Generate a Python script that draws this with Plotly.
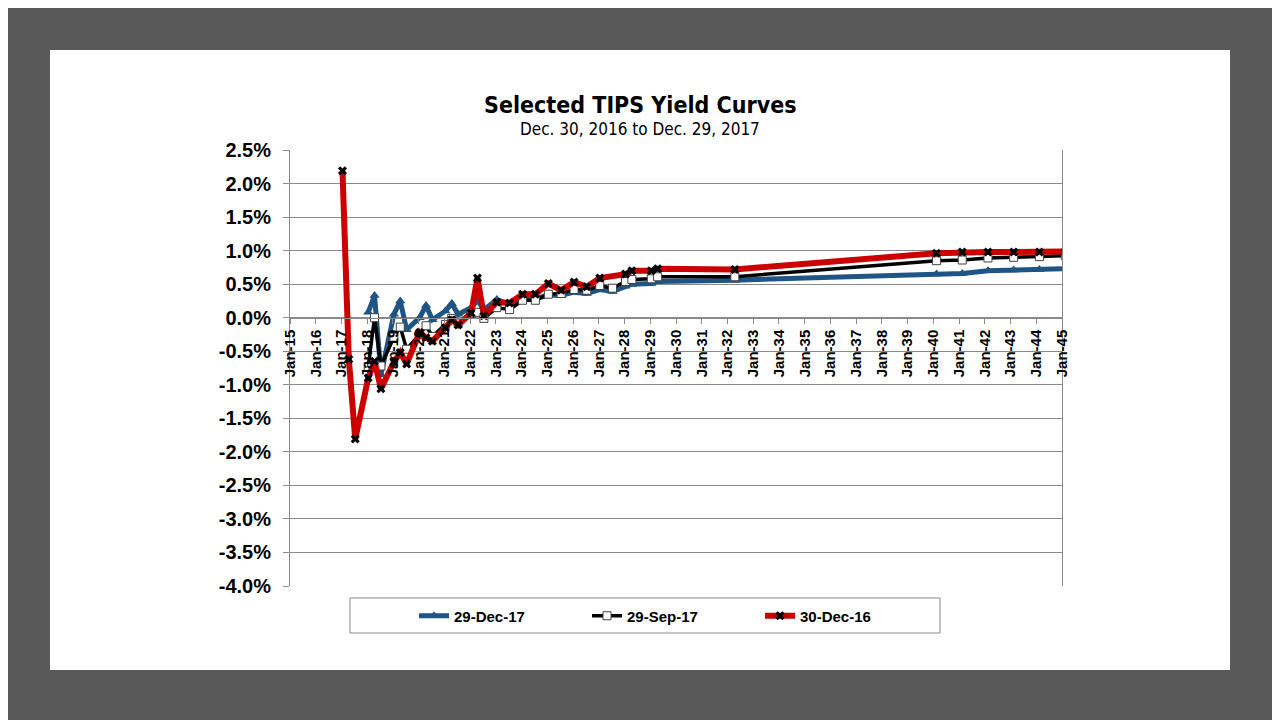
import plotly.graph_objects as go

# ---------------- data ----------------
dec17_dates = ["2018-01-15", "2018-04-15", "2018-07-15", "2019-01-15", "2019-04-15", "2019-07-15",
               "2020-01-15", "2020-04-15", "2020-07-15", "2021-01-15", "2021-04-15", "2021-07-15",
               "2022-01-15", "2022-04-15", "2022-07-15", "2023-01-15", "2023-07-15", "2024-01-15",
               "2024-07-15", "2025-01-15", "2025-07-15", "2026-01-15", "2026-07-15", "2027-01-15",
               "2027-07-15", "2028-01-15", "2028-04-15", "2029-01-15", "2029-04-15", "2032-04-15",
               "2040-02-15", "2041-02-15", "2042-02-15", "2043-02-15", "2044-02-15", "2045-02-15",
               "2046-02-15", "2047-02-15"]
dec17_yields = [0.08, 0.33, -0.85, 0.05, 0.25, -0.18,
                0.00, 0.18, -0.03, 0.10, 0.21, 0.05,
                0.15, 0.26, 0.12, 0.27, 0.20, 0.28,
                0.28, 0.34, 0.33, 0.38, 0.36, 0.42,
                0.39, 0.47, 0.50, 0.51, 0.54, 0.56,
                0.65, 0.66, 0.70, 0.71, 0.72, 0.73,
                0.74, 0.75]

sep17_dates = ["2018-01-15", "2018-04-15", "2018-07-15", "2019-01-15", "2019-04-15", "2019-07-15",
               "2020-01-15", "2020-04-15", "2020-07-15", "2021-01-15", "2021-04-15", "2021-07-15",
               "2022-01-15", "2022-04-15", "2022-07-15", "2023-01-15", "2023-07-15", "2024-01-15",
               "2024-07-15", "2025-01-15", "2025-07-15", "2026-01-15", "2026-07-15", "2027-01-15",
               "2027-07-15", "2028-01-15", "2028-04-15", "2029-01-15", "2029-04-15", "2032-04-15",
               "2040-02-15", "2041-02-15", "2042-02-15", "2043-02-15", "2044-02-15", "2045-02-15",
               "2046-02-15", "2047-02-15"]
sep17_yields = [-0.73, 0.00, -0.72, -0.29, -0.14, -0.47,
                -0.25, -0.12, -0.28, -0.10, -0.01, -0.08,
                0.06, 0.08, -0.01, 0.15, 0.12, 0.26,
                0.26, 0.35, 0.36, 0.42, 0.41, 0.48,
                0.44, 0.54, 0.57, 0.58, 0.61, 0.61,
                0.85, 0.86, 0.89, 0.90, 0.91, 0.93,
                0.94, 0.95]

dec16_dates = ["2017-01-15", "2017-04-15", "2017-07-15", "2018-01-15", "2018-04-15", "2018-07-15",
               "2019-01-15", "2019-04-15", "2019-07-15", "2020-01-15", "2020-04-15", "2020-07-15",
               "2021-01-15", "2021-04-15", "2021-07-15", "2022-01-15", "2022-04-15", "2022-07-15",
               "2023-01-15", "2023-07-15", "2024-01-15", "2024-07-15", "2025-01-15", "2025-07-15",
               "2026-01-15", "2026-07-15", "2027-01-15", "2028-01-15", "2028-04-15", "2029-01-15",
               "2029-04-15", "2032-04-15", "2040-02-15", "2041-02-15", "2042-02-15", "2043-02-15",
               "2044-02-15", "2045-02-15", "2046-02-15"]
dec16_yields = [2.19, -0.62, -1.81, -0.90, -0.65, -1.06,
                -0.66, -0.52, -0.69, -0.22, -0.30, -0.35,
                -0.15, -0.03, -0.11, 0.07, 0.59, 0.03,
                0.23, 0.22, 0.35, 0.35, 0.51, 0.41,
                0.53, 0.46, 0.59, 0.65, 0.70, 0.70,
                0.73, 0.72, 0.96, 0.98, 0.98, 0.98,
                0.98, 0.98, 0.99]

series_names = ["29-Dec-17", "29-Sep-17", "30-Dec-16"]

y_tick_vals = [2.5, 2.0, 1.5, 1.0, 0.5, 0.0, -0.5, -1.0, -1.5, -2.0, -2.5, -3.0, -3.5, -4.0]
y_tick_text = [f"{v:.1f}%" for v in y_tick_vals]
x_tick_years = list(range(2015, 2046))
x_tick_vals = [f"{y}-01-01" for y in x_tick_years]
x_tick_text = [f"Jan-{y % 100:02d}" for y in x_tick_years]

# ---------------- figure ----------------
W, H = 1280, 720
OFF = 8  # page offset of the figure inside the browser window
L, R, T, B = 290 - OFF, 1062 - OFF, 150 - OFF, 586 - OFF
pw, ph = R - L, B - T


def px(xp):
    return (xp - OFF - L) / pw


def py(yp):
    return (B - (yp - OFF)) / ph


fig = go.Figure()

fig.add_trace(go.Scatter(
    x=dec17_dates, y=dec17_yields, name=series_names[0], mode="lines+markers",
    line=dict(color="#1F5585", width=5),
    marker=dict(symbol="triangle-up", size=9, color="#1F5585"),
))
fig.add_trace(go.Scatter(
    x=sep17_dates, y=sep17_yields, name=series_names[1], mode="lines+markers",
    line=dict(color="#000000", width=3.5),
    marker=dict(symbol="square", size=8, color="white", line=dict(color="#404040", width=1)),
))
fig.add_trace(go.Scatter(
    x=dec16_dates, y=dec16_yields, name=series_names[2], mode="lines+markers",
    line=dict(color="#CC0000", width=6),
    marker=dict(symbol="x", size=8, color="#000000", line=dict(width=0)),
))

grid = "#8a8a8a"
fig.update_layout(
    width=W, height=H,
    margin=dict(l=L, r=W - R, t=T, b=H - B),
    paper_bgcolor="#595959",
    plot_bgcolor="white",
    showlegend=True,
    hovermode=False,
    xaxis=dict(
        type="date",
        range=["2015-01-01", "2045-01-01"],
        tickmode="array", tickvals=x_tick_vals, ticktext=x_tick_text,
        tickangle=-90,
        tickfont=dict(family="Liberation Sans, Arial, sans-serif", size=15, color="black", weight="bold"),
        ticks="outside", ticklen=5, tickcolor=grid,
        showgrid=False, zeroline=False,
        showline=True, linecolor=grid, linewidth=1,
        anchor="free", position=4.0 / 6.5,
    ),
    yaxis=dict(
        range=[-4.0, 2.5],
        tickmode="array", tickvals=y_tick_vals, ticktext=y_tick_text,
        tickfont=dict(family="Liberation Sans, Arial, sans-serif", size=20, color="black", weight="bold"),
        ticks="outside", ticklen=6, tickcolor=grid,
        ticklabelstandoff=8,
        showgrid=True, gridcolor=grid, gridwidth=1,
        zeroline=False,
        showline=True, linecolor=grid, linewidth=1, mirror=True,
    ),
    legend=dict(
        orientation="h",
        x=px(414), xanchor="left",
        y=py(616), yanchor="middle",
        bgcolor="rgba(0,0,0,0)", borderwidth=0,
        entrywidth=128, entrywidthmode="pixels",
        font=dict(family="Liberation Sans, Arial, sans-serif", size=15, color="black", weight="bold"),
    ),
    shapes=[
        dict(type="rect", xref="paper", yref="paper",
             x0=px(50), x1=px(1230), y0=py(670), y1=py(50),
             fillcolor="white", line=dict(width=0), layer="below"),
        dict(type="rect", xref="paper", yref="paper",
             x0=px(350), x1=px(940), y0=py(633), y1=py(598),
             fillcolor="rgba(0,0,0,0)", line=dict(color=grid, width=1), layer="above"),
    ],
    annotations=[
        dict(text="<b>Selected TIPS Yield Curves</b>", xref="paper", yref="paper",
             x=px(640), y=py(105), xanchor="center", yanchor="middle", showarrow=False,
             font=dict(family="DejaVu Sans Condensed, Liberation Sans Narrow, sans-serif", size=23, color="black")),
        dict(text="Dec. 30, 2016 to Dec. 29, 2017", xref="paper", yref="paper",
             x=px(640), y=py(129), xanchor="center", yanchor="middle", showarrow=False,
             font=dict(family="DejaVu Sans Condensed, Liberation Sans Narrow, sans-serif", size=17, color="black")),
    ],
)

fig.write_html("out.html")
